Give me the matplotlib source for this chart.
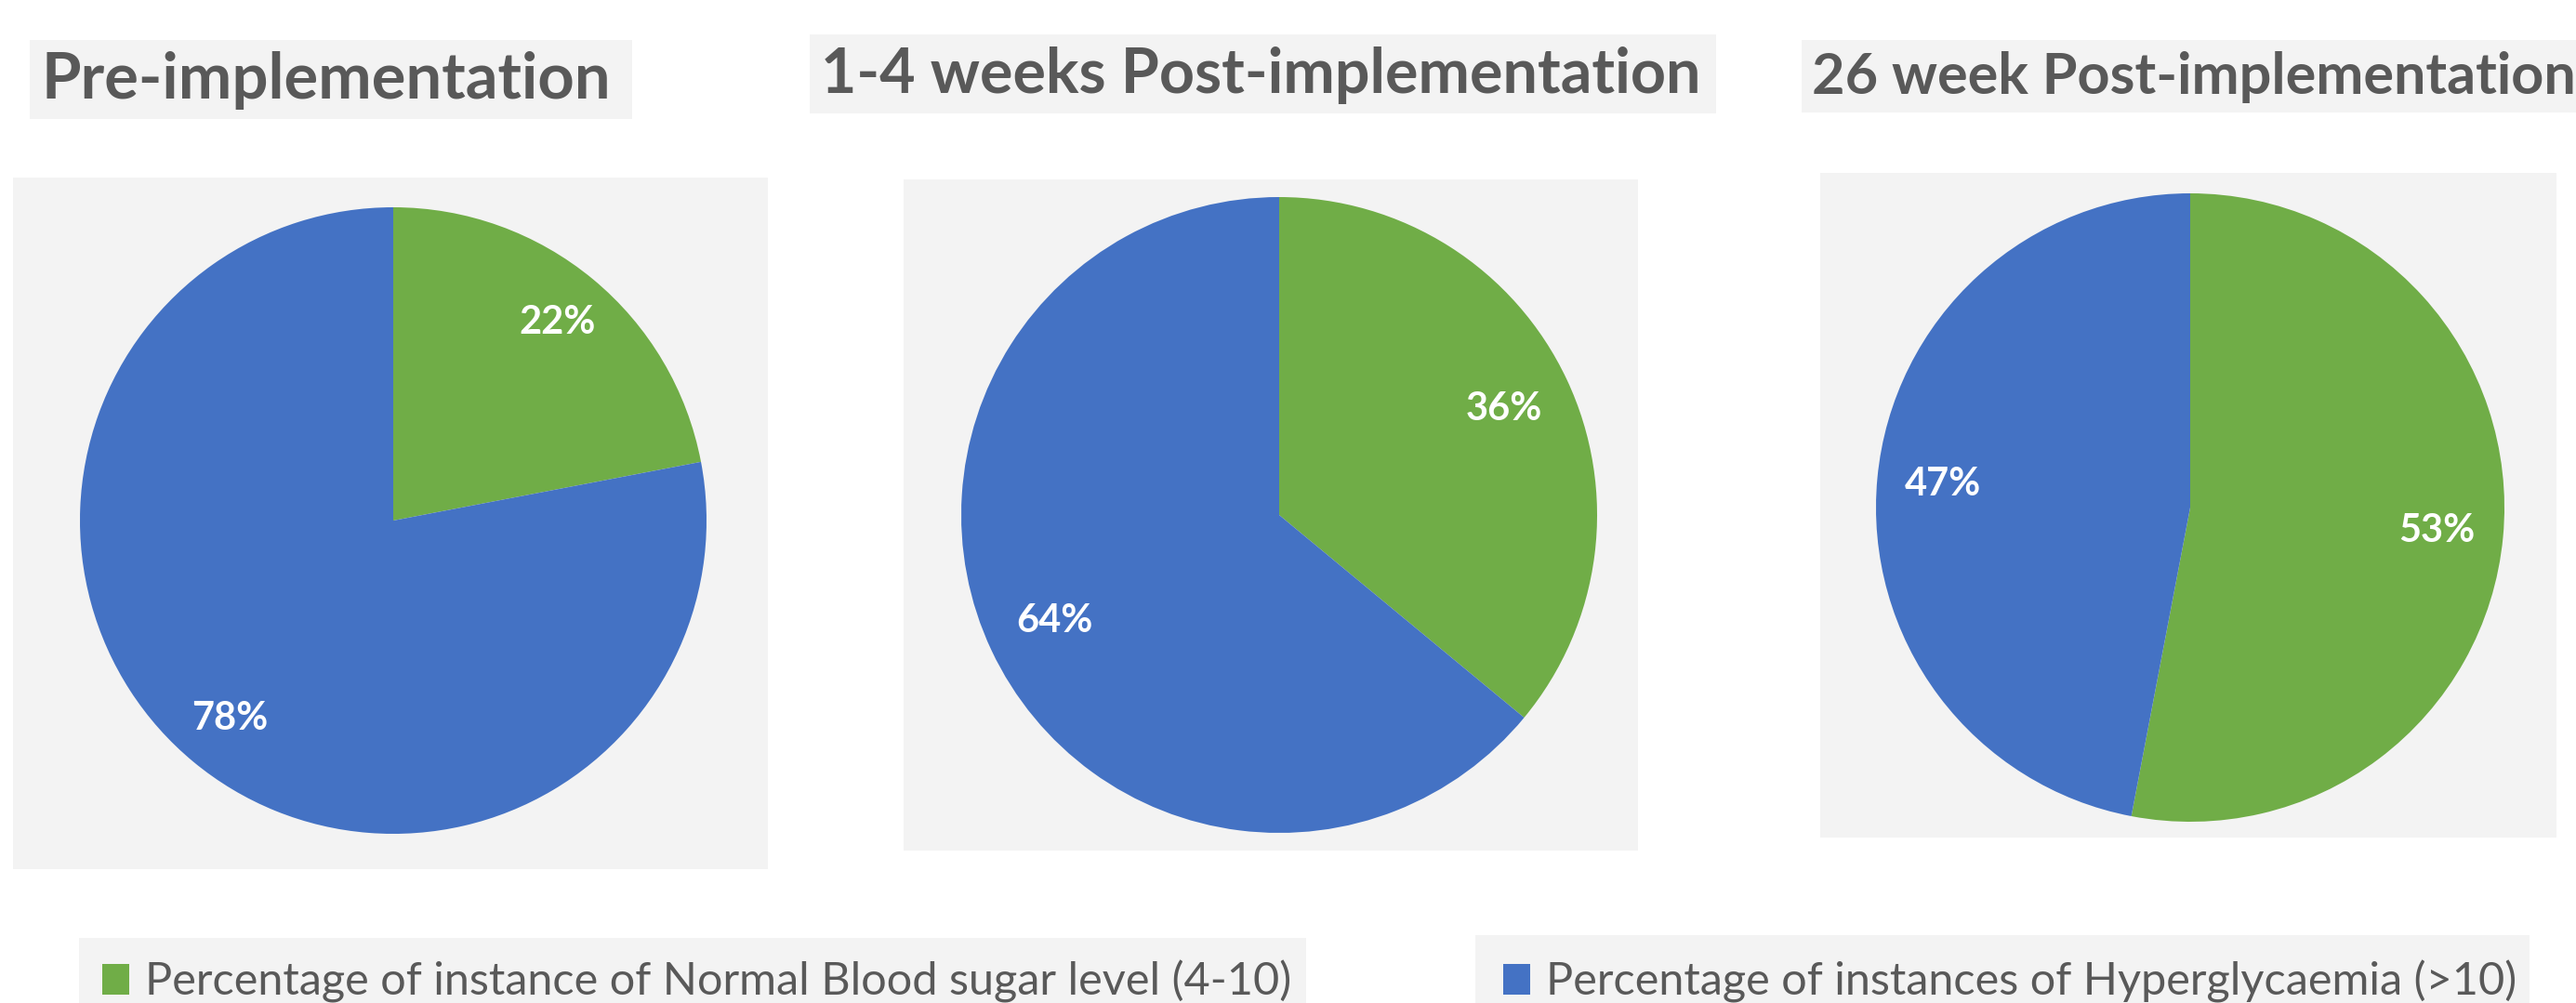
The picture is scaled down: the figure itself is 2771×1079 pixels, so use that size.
import matplotlib
matplotlib.use("Agg")
import matplotlib.pyplot as plt
from matplotlib.patches import Rectangle

# ---- data ----
titles = ["Pre-implementation", "1-4 weeks Post-implementation", "26 week Post-implementation"]
categories = ["Percentage of instance of Normal Blood sugar level (4-10)",
              "Percentage of instances of Hyperglycaemia (>10)"]
normal_pct = [22, 36, 53]
hyper_pct = [78, 64, 47]

colors = ["#70AD47", "#4472C4"]
text_gray = "#595959"
panel_gray = "#f3f3f3"

W, H = 2771, 1079
DPI = 100
plt.rcParams['font.family'] = ['Lato', 'DejaVu Sans']

fig = plt.figure(figsize=(W / DPI, H / DPI), dpi=DPI)
fig.patch.set_facecolor("white")


def px_rect(x0, y0, x1, y1, color=panel_gray):
    """Background box given in pixel coords (top-left origin)."""
    fig.patches.append(Rectangle((x0 / W, 1 - y1 / H), (x1 - x0) / W, (y1 - y0) / H,
                                 transform=fig.transFigure, facecolor=color,
                                 edgecolor="none", zorder=-5))


# title boxes, pie panels, legend boxes
for box in [(32, 43, 680, 128), (871, 37, 1846, 122), (1938, 43, 2771, 121),
            (14, 191, 826, 935), (972, 193, 1762, 915), (1958, 186, 2750, 901),
            (85, 1009, 1405, 1079), (1587, 1006, 2721, 1079)]:
    px_rect(*box)

# titles
title_pos = [(44, 106), (883, 100), (1949, 101)]
title_sizes = [49.5, 47.8, 44]
for t, (x, y), fs in zip(titles, title_pos, title_sizes):
    fig.text(x / W, 1 - y / H, t, fontsize=fs, fontweight="bold", color=text_gray,
             ha="left", va="baseline")

# pies
centers = [(423, 560, 337), (1376, 554, 342), (2356, 546, 338)]
pctd = [0.82, 0.78, 0.79]
wedges_all = []
for i, (cx, cy, r) in enumerate(centers):
    ax = fig.add_axes([(cx - r) / W, 1 - (cy + r) / H, 2 * r / W, 2 * r / H])
    ax.set_facecolor("none")
    wedges, texts, autotexts = ax.pie(
        [normal_pct[i], hyper_pct[i]], colors=colors, startangle=90, counterclock=False,
        autopct=lambda p: f"{p:.0f}%", pctdistance=pctd[i], radius=1,
        wedgeprops=dict(edgecolor="none"),
        textprops=dict(color="white", fontsize=30, fontweight="bold"))
    ax.set_xlim(-1, 1)
    ax.set_ylim(-1, 1)
    ax.set_aspect("equal")
    ax.axis("off")
    wedges_all.append(wedges)

# legends
leg_pos = [(110, 1079), (1617, 1079)]
for j, (lx, ly) in enumerate(leg_pos):
    leg = fig.legend([wedges_all[0][j]], [categories[j]], loc="lower left",
                     bbox_to_anchor=(lx / W, 1 - ly / H), frameon=False,
                     fontsize=35, handlelength=0.6, handleheight=0.66,
                     handletextpad=0.34, borderpad=0, borderaxespad=0)
    for txt in leg.get_texts():
        txt.set_color(text_gray)

fig.savefig("out.png", dpi=DPI, facecolor="white")
